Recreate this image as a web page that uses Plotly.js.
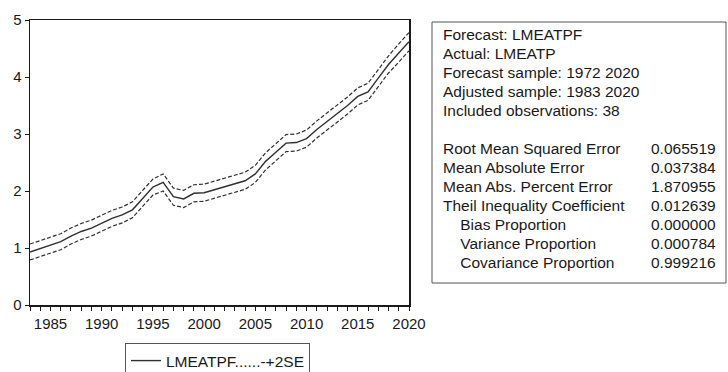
<!DOCTYPE html>
<html>
<head>
<meta charset="utf-8">
<script src="https://cdn.plot.ly/plotly-3.0.1.min.js"></script>
<style>html,body{margin:0;padding:0;background:#fff;overflow:hidden;}#chart{width:728px;height:372px;}</style>
</head>
<body>
<div id="chart"></div>
<script>
const years = [1983,1984,1985,1986,1987,1988,1989,1990,1991,1992,1993,1994,1995,1996,1997,1998,1999,2000,2001,2002,2003,2004,2005,2006,2007,2008,2009,2010,2011,2012,2013,2014,2015,2016,2017,2018,2019,2020];
const forecast = [0.93,0.99,1.05,1.11,1.21,1.29,1.35,1.44,1.52,1.58,1.67,1.87,2.07,2.15,1.90,1.86,1.96,1.97,2.02,2.08,2.12,2.18,2.30,2.52,2.68,2.84,2.85,2.92,3.08,3.22,3.36,3.50,3.66,3.74,3.98,4.22,4.42,4.62];
const upperBand = [1.07,1.13,1.19,1.25,1.35,1.43,1.49,1.58,1.66,1.72,1.81,2.01,2.21,2.30,2.05,2.01,2.11,2.12,2.17,2.23,2.27,2.33,2.45,2.67,2.83,2.99,3.00,3.07,3.23,3.37,3.51,3.65,3.81,3.89,4.13,4.37,4.58,4.78];
const lowerBand = [0.79,0.85,0.91,0.97,1.07,1.15,1.21,1.30,1.38,1.44,1.53,1.73,1.93,2.00,1.75,1.71,1.81,1.82,1.87,1.93,1.97,2.03,2.15,2.37,2.53,2.69,2.70,2.77,2.93,3.07,3.21,3.35,3.51,3.59,3.83,4.07,4.26,4.46];
const legendLabel = "LMEATPF......-+2SE";
const statLabels = ["Forecast: LMEATPF","Actual: LMEATP","Forecast sample: 1972 2020","Adjusted sample: 1983 2020","Included observations: 38","","Root Mean Squared Error","Mean Absolute Error","Mean Abs. Percent Error","Theil Inequality Coefficient","\u00a0\u00a0\u00a0\u00a0Bias Proportion","\u00a0\u00a0\u00a0\u00a0Variance Proportion","\u00a0\u00a0\u00a0\u00a0Covariance Proportion"];
const statValues = ["","","","","","","0.065519","0.037384","1.870955","0.012639","0.000000","0.000784","0.999216"];

const W = 728, H = 372;
const mL = 30, mR = 319, mT = 20, mB = 67;
const pw = W - mL - mR, ph = H - mT - mB;
const px = x => (x - mL) / pw;
const py = y => (H - mB - y) / ph;

const lineColor = '#303030';
const traces = [
  {x: years, y: forecast, type: 'scatter', mode: 'lines', name: legendLabel,
   line: {color: lineColor, width: 1.4}, showlegend: true},
  {x: years, y: upperBand, type: 'scatter', mode: 'lines', name: 'upper',
   line: {color: lineColor, width: 1.2, dash: '4px,2px'}, showlegend: false},
  {x: years, y: lowerBand, type: 'scatter', mode: 'lines', name: 'lower',
   line: {color: lineColor, width: 1.2, dash: '4px,2px'}, showlegend: false}
];

const fam = 'Liberation Sans, Arial, sans-serif';
const tickFont = {family: fam, size: 15, color: '#1a1a1a'};
const boxFont = {family: fam, size: 15.5, color: '#1a1a1a'};
const annotations = [];
const rowTop = 34, rowStep = 19;
statLabels.forEach((t, i) => {
  if (t) annotations.push({xref: 'paper', yref: 'paper', x: px(441), y: py(rowTop + i * rowStep),
    xanchor: 'left', yanchor: 'middle', text: t, showarrow: false, font: boxFont});
  if (statValues[i]) annotations.push({xref: 'paper', yref: 'paper', x: px(718), y: py(rowTop + i * rowStep),
    xanchor: 'right', yanchor: 'middle', text: statValues[i], showarrow: false, font: boxFont});
});

const layout = {
  width: W, height: H,
  margin: {l: mL, r: mR, t: mT, b: mB, pad: 0, autoexpand: false},
  paper_bgcolor: '#fff', plot_bgcolor: '#fff',
  font: tickFont,
  xaxis: {range: [1983, 2020], tick0: 1985, dtick: 5, ticks: 'outside', ticklen: 4, tickwidth: 1, tickcolor: '#1a1a1a',
    showline: true, linecolor: '#1a1a1a', linewidth: 1.5, mirror: true, showgrid: false, zeroline: false,
    minor: {dtick: 1, ticks: 'outside', ticklen: 4, tickwidth: 1, tickcolor: '#1a1a1a', showgrid: false},
    tickfont: tickFont, automargin: false},
  yaxis: {range: [0, 5], dtick: 1, ticks: 'outside', ticklen: 4, tickwidth: 1, tickcolor: '#1a1a1a',
    showline: true, linecolor: '#1a1a1a', linewidth: 1.5, mirror: true, showgrid: false, zeroline: false,
    tickfont: tickFont, automargin: false},
  showlegend: true,
  legend: {x: px(125), y: py(343), xanchor: 'left', yanchor: 'top', orientation: 'h',
    bordercolor: '#555', borderwidth: 1, bgcolor: '#fff', font: boxFont, itemwidth: 30},
  shapes: [
    {type: 'rect', xref: 'paper', yref: 'paper', x0: px(432), x1: px(726), y0: py(22), y1: py(283),
     line: {color: '#555', width: 1}, fillcolor: 'rgba(0,0,0,0)'}
  ],
  annotations: annotations
};

Plotly.newPlot('chart', traces, layout, {staticPlot: true, displayModeBar: false});
</script>
</body>
</html>
